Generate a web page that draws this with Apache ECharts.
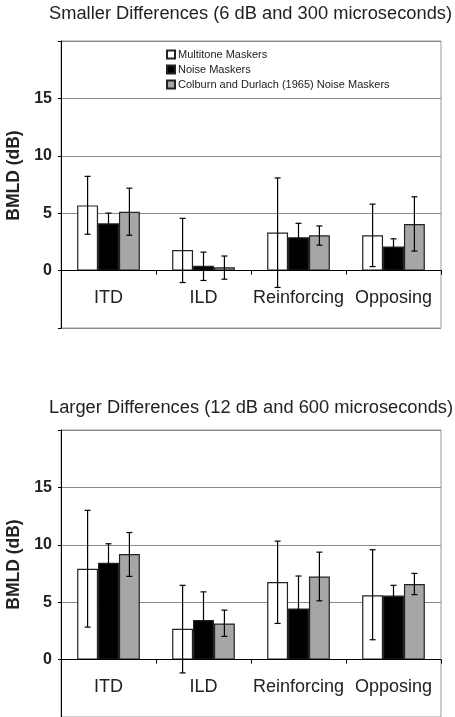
<!DOCTYPE html>
<html>
<head>
<meta charset="utf-8">
<script src="https://cdn.jsdelivr.net/npm/echarts@6/dist/echarts.min.js"></script>
<style>html,body{margin:0;padding:0;background:#fff;}#c{width:455px;height:717px;}</style>
</head>
<body>
<div id="c"></div>
<script>
const categories = ['ITD', 'ILD', 'Reinforcing', 'Opposing'];
const seriesNames = ['Multitone Maskers', 'Noise Maskers', 'Colburn and Durlach (1965) Noise Maskers'];
const titleSmall = 'Smaller Differences (6 dB and 300 microseconds)';
const titleLarge = 'Larger Differences (12 dB and 600 microseconds)';
const yTickLabels = [0, 5, 10, 15];

// Smaller differences
const smallMulti = [5.68, 1.79, 3.31, 3.08];
const smallMultiLow = [3.17, -1.04, -1.47, 0.35];
const smallMultiHigh = [8.21, 4.55, 8.07, 5.79];
const smallNoise = [4.12, 0.43, 2.91, 2.10];
const smallNoiseLow = [3.17, -0.86, 1.70, 1.41];
const smallNoiseHigh = [5.01, 1.61, 4.12, 2.77];
const smallCD = [5.13, 0.29, 3.08, 4.06];
const smallCDLow = [3.08, -0.75, 2.22, 1.70];
const smallCDHigh = [7.18, 1.27, 3.89, 6.43];

// Larger differences
const largeMulti = [7.92, 2.69, 6.76, 5.61];
const largeMultiLow = [2.83, -1.16, 3.15, 1.73];
const largeMultiHigh = [13.0, 6.47, 10.32, 9.57];
const largeNoise = [8.44, 3.44, 4.45, 5.58];
const largeNoiseLow = [6.73, 0.95, 1.53, 4.65];
const largeNoiseHigh = [10.09, 5.90, 7.28, 6.47];
const largeCD = [9.19, 3.15, 7.23, 6.59];
const largeCDLow = [7.25, 2.02, 5.12, 5.66];
const largeCDHigh = [11.07, 4.31, 9.36, 7.51];

const FONT = 'Liberation Sans, Arial, sans-serif';
const fills = ['#ffffff', '#000000', '#a6a6a6'];
const CAT_GAP = 0.34;
const LABEL_GAP = 18;
const Y_MIN = -5, Y_MAX = 20, Y_STEP = 5;

function errRender(groupIdx) {
  return function (params, api) {
    const cat = api.value(0);
    const lo = api.coord([cat, api.value(1)]);
    const hi = api.coord([cat, api.value(2)]);
    const band = api.size([1, 0])[0];
    const bw = band * (1 - CAT_GAP) / 3;
    const x = lo[0] + (groupIdx - 1) * bw;
    const cap = 3;
    const st = { stroke: '#000', lineWidth: 1.2 };
    return {
      type: 'group',
      children: [
        { type: 'line', shape: { x1: x, y1: hi[1], x2: x, y2: lo[1] }, style: st },
        { type: 'line', shape: { x1: x - cap, y1: hi[1], x2: x + cap, y2: hi[1] }, style: st },
        { type: 'line', shape: { x1: x - cap, y1: lo[1], x2: x + cap, y2: lo[1] }, style: st }
      ]
    };
  };
}

function xAxisFor(gi) {
  return {
    type: 'category', gridIndex: gi, data: categories, position: 'bottom',
    axisLine: { onZero: true, lineStyle: { color: '#000', width: 1 } },
    axisTick: { show: true, length: 4, lineStyle: { color: '#000' } },
    axisLabel: { margin: LABEL_GAP, fontSize: 18, color: '#222', fontFamily: FONT, interval: 0, hideOverlap: false },
    z: 5
  };
}
function yAxisFor(gi) {
  return {
    type: 'value', gridIndex: gi, min: Y_MIN, max: Y_MAX, interval: Y_STEP,
    name: 'BMLD (dB)', nameLocation: 'middle', nameGap: 32,
    nameTextStyle: { fontWeight: 'bold', fontSize: 17.5, color: '#222', fontFamily: FONT, padding: [0, 0, 0, 18] },
    axisLine: { show: true, onZero: false, lineStyle: { color: '#000', width: 1 } },
    axisTick: { show: true, length: 3, lineStyle: { color: '#000' } },
    axisLabel: {
      fontWeight: 'bold', fontSize: 16, color: '#222', fontFamily: FONT, margin: 9,
      formatter: function (v) { return yTickLabels.indexOf(v) >= 0 ? String(v) : ''; }
    },
    splitLine: { show: true, lineStyle: { color: '#888', width: 1 } }
  };
}

const groups = [
  { vals: [smallMulti, smallNoise, smallCD], lows: [smallMultiLow, smallNoiseLow, smallCDLow], highs: [smallMultiHigh, smallNoiseHigh, smallCDHigh] },
  { vals: [largeMulti, largeNoise, largeCD], lows: [largeMultiLow, largeNoiseLow, largeCDLow], highs: [largeMultiHigh, largeNoiseHigh, largeCDHigh] }
];

const series = [];
groups.forEach(function (g, gi) {
  g.vals.forEach(function (arr, si) {
    series.push({
      type: 'bar', name: seriesNames[si], xAxisIndex: gi, yAxisIndex: gi,
      data: arr, barGap: '0%', barCategoryGap: (CAT_GAP * 100) + '%',
      itemStyle: { color: fills[si], borderColor: '#222', borderWidth: 1.2 },
      z: 2
    });
  });
  g.vals.forEach(function (arr, si) {
    series.push({
      type: 'custom', name: 'err' + gi + '_' + si, xAxisIndex: gi, yAxisIndex: gi,
      renderItem: errRender(si),
      encode: { x: 0, y: [1, 2] },
      data: categories.map(function (c, i) { return [i, g.lows[si][i], g.highs[si][i]]; }),
      z: 10
    });
  });
});

const chart = echarts.init(document.getElementById('c'), null, { renderer: 'canvas' });
chart.setOption({
  animation: false,
  backgroundColor: '#fff',
  textStyle: { fontFamily: FONT },
  title: [
    { text: titleSmall, left: 49, top: 5, padding: 0, textStyle: { fontSize: 18.3, fontWeight: 'normal', color: '#222', fontFamily: FONT } },
    { text: titleLarge, left: 49, top: 399, padding: 0, textStyle: { fontSize: 18.3, fontWeight: 'normal', color: '#222', fontFamily: FONT } }
  ],
  legend: {
    data: seriesNames, orient: 'vertical', left: 166, top: 49, padding: 0,
    icon: 'rect', itemWidth: 8, itemHeight: 8, itemGap: 4,
    textStyle: { fontSize: 11, color: '#222', fontFamily: FONT, padding: [0, 0, 0, -2] }
  },
  grid: [
    { left: 61, right: 14, top: 41, height: 287, show: true, borderColor: '#999', borderWidth: 1, outerBoundsMode: 'none', containLabel: false },
    { left: 61, right: 14, top: 430, height: 287, show: true, borderColor: '#999', borderWidth: 1, outerBoundsMode: 'none', containLabel: false }
  ],
  xAxis: [xAxisFor(0), xAxisFor(1)],
  yAxis: [yAxisFor(0), yAxisFor(1)],
  series: series
});

// Category labels sit just under the y = 0 line (the axis line itself is on zero).
const labelMargins = [0, 1].map(function (gi) {
  const zeroPx = chart.convertToPixel({ yAxisIndex: gi }, 0);
  const bottomPx = chart.convertToPixel({ yAxisIndex: gi }, Y_MIN);
  return LABEL_GAP + (zeroPx - bottomPx);
});
chart.setOption({ xAxis: [{ axisLabel: { margin: labelMargins[0] } }, { axisLabel: { margin: labelMargins[1] } }] });
</script>
</body>
</html>
